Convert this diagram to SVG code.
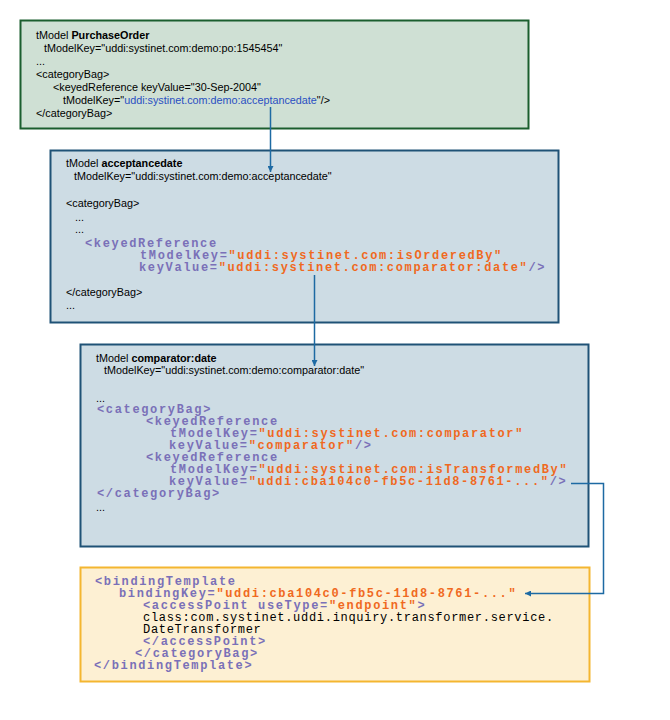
<svg xmlns="http://www.w3.org/2000/svg" width="670" height="720" viewBox="0 0 670 720">
<defs>
<style>
.s{font-family:"Liberation Sans",Arial,sans-serif;font-size:10.8px;fill:#000}
.b{font-weight:bold}
.k{fill:#2a4fc2}
.m{font-family:"Liberation Mono","Courier New",monospace;font-size:12px;font-weight:bold;letter-spacing:1.65px}
.t{fill:#7a70b8}
.v{fill:#f0691e}
.n{fill:#000;font-weight:normal;letter-spacing:0.7px}
.conn{fill:none;stroke:#1d6aa3;stroke-width:1.5}
</style>
<marker id="ah" viewBox="0 0 10 10" refX="10" refY="5" markerWidth="6" markerHeight="6" orient="auto" markerUnits="userSpaceOnUse">
<path d="M0,0 L10,5 L0,10 z" fill="#1d6aa3"/>
</marker>
</defs>
<rect width="670" height="720" fill="#fff"/>

<g id="node-purchaseorder">
<rect x="20.5" y="20.5" width="508" height="108" fill="#cfe0d4" stroke="#1b5e2e" stroke-width="2"/>
<text class="s" x="36" y="38.5">tModel <tspan class="b">PurchaseOrder</tspan></text>
<text class="s" x="44" y="51.5">tModelKey="uddi:systinet.com:demo:po:1545454"</text>
<text class="s" x="36" y="64.5">...</text>
<text class="s" x="36" y="77.5">&lt;categoryBag&gt;</text>
<text class="s" x="53" y="91">&lt;keyedReference keyValue="30-Sep-2004"</text>
<text class="s" x="63" y="104">tModelKey="<tspan class="k">uddi:systinet.com:demo:acceptancedate</tspan>"/&gt;</text>
<text class="s" x="36" y="117">&lt;/categoryBag&gt;</text>
</g>

<g id="node-acceptancedate">
<rect x="50.5" y="150.5" width="508" height="172" fill="#cddce4" stroke="#1f5276" stroke-width="2"/>
<text class="s" x="66" y="167">tModel <tspan class="b">acceptancedate</tspan></text>
<text class="s" x="74" y="180">tModelKey="uddi:systinet.com:demo:acceptancedate"</text>
<text class="s" x="66" y="207">&lt;categoryBag&gt;</text>
<text class="s" x="75" y="221">...</text>
<text class="s" x="75" y="233">...</text>
<text class="m t" x="85" y="247">&lt;keyedReference</text>
<text class="m t" x="140" y="259">tModelKey=<tspan class="v">"uddi:systinet.com:isOrderedBy"</tspan></text>
<text class="m t" x="139" y="271">keyValue=<tspan class="v">"uddi:systinet.com:comparator:date"</tspan>/&gt;</text>
<text class="s" x="66" y="296">&lt;/categoryBag&gt;</text>
<text class="s" x="66" y="309">...</text>
</g>

<g id="node-comparatordate">
<rect x="80.5" y="344.5" width="508" height="202" fill="#cddce4" stroke="#1f5276" stroke-width="2"/>
<text class="s" x="96" y="362">tModel <tspan class="b">comparator:date</tspan></text>
<text class="s" x="104" y="374">tModelKey="uddi:systinet.com:demo:comparator:date"</text>
<text class="s" x="96" y="402">...</text>
<text class="m t" x="97" y="413">&lt;categoryBag&gt;</text>
<text class="m t" x="146" y="425">&lt;keyedReference</text>
<text class="m t" x="170" y="437">tModelKey=<tspan class="v">"uddi:systinet.com:comparator"</tspan></text>
<text class="m t" x="169" y="449">keyValue=<tspan class="v">"comparator"</tspan>/&gt;</text>
<text class="m t" x="146" y="461">&lt;keyedReference</text>
<text class="m t" x="170" y="473">tModelKey=<tspan class="v">"uddi:systinet.com:isTransformedBy"</tspan></text>
<text class="m t" x="169" y="485">keyValue=<tspan class="v">"uddi:cba104c0-fb5c-11d8-8761-..."</tspan>/&gt;</text>
<text class="m t" x="97" y="497">&lt;/categoryBag&gt;</text>
<text class="s" x="96" y="511">...</text>
</g>

<g id="node-bindingtemplate">
<rect x="80.5" y="567.5" width="509" height="114" fill="#fdf0d3" stroke="#f4b630" stroke-width="2"/>
<text class="m t" x="95" y="585">&lt;bindingTemplate</text>
<text class="m t" x="119" y="597">bindingKey=<tspan class="v">"uddi:cba104c0-fb5c-11d8-8761-..."</tspan></text>
<text class="m t" x="143" y="609">&lt;accessPoint useType=<tspan class="v">"endpoint"</tspan>&gt;</text>
<text class="m n" x="143" y="621">class:com.systinet.uddi.inquiry.transformer.service.</text>
<text class="m n" x="143" y="633">DateTransformer</text>
<text class="m t" x="143" y="645">&lt;/accessPoint&gt;</text>
<text class="m t" x="135" y="657">&lt;/categoryBag&gt;</text>
<text class="m t" x="94" y="669">&lt;/bindingTemplate&gt;</text>
</g>

<g id="connectors">
<path class="conn" d="M270.5,107 V172" marker-end="url(#ah)"/>
<path class="conn" d="M314.5,275 V366" marker-end="url(#ah)"/>
<path class="conn" d="M571,483.5 H603.5 V593.5 H525" marker-end="url(#ah)"/>
</g>
</svg>
